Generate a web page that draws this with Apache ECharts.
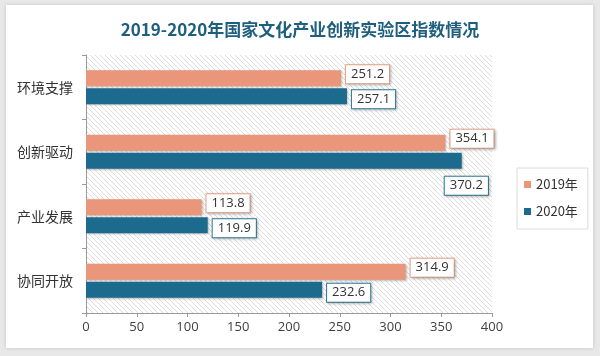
<!DOCTYPE html>
<html>
<head>
<meta charset="utf-8">
<script src="https://cdn.jsdelivr.net/npm/echarts@6/dist/echarts.min.js"></script>
<style>
html,body{margin:0;padding:0;background:#e8e8e8;}
#chart{width:600px;height:356px;}
</style>
</head>
<body>
<div id="chart"></div>
<script>
const titleText = '2019-2020年国家文化产业创新实验区指数情况';
const categories = ['环境支撑', '创新驱动', '产业发展', '协同开放'];
const seriesNames = ['2019年', '2020年'];
const values2019 = [251.2, 354.1, 113.8, 314.9];
const values2020 = [257.1, 370.2, 119.9, 232.6];
const xTicks = [0, 50, 100, 150, 200, 250, 300, 350, 400];

const colors = ['#E9967A', '#1C6A8E'];
const labelBorders = ['#E7A68C', '#2D7C9C'];

// hatch pattern
const pc = document.createElement('canvas');
pc.width = 5; pc.height = 5;
const pctx = pc.getContext('2d');
pctx.fillStyle = '#ffffff';
pctx.fillRect(0, 0, 5, 5);
pctx.strokeStyle = '#dedede';
pctx.lineWidth = 1;
pctx.beginPath();
pctx.moveTo(0, 0); pctx.lineTo(5, 5);
pctx.moveTo(-2.5, 2.5); pctx.lineTo(2.5, 7.5);
pctx.moveTo(2.5, -2.5); pctx.lineTo(7.5, 2.5);
pctx.stroke();

const chart = echarts.init(document.getElementById('chart'), null, {renderer: 'canvas'});

function makeSeries(idx, vals) {
  return {
    name: seriesNames[idx],
    type: 'bar',
    barWidth: 16,
    barGap: '12%',
    data: vals.map(function (v, i) {
      const d = {value: v};
      if (idx === 1 && v === Math.max.apply(null, vals)) {
        d.label = {offset: [-22, 25]};
      }
      return d;
    }),
    itemStyle: {
      color: colors[idx],
      shadowColor: 'rgba(0,0,0,0.25)',
      shadowBlur: 2,
      shadowOffsetX: 1,
      shadowOffsetY: 1
    },
    label: {
      show: true,
      position: 'right',
      distance: 5,
      offset: idx === 0 ? [0, -4] : [0, 3],
      color: '#333',
      fontSize: 13,
      fontFamily: 'Open Sans, sans-serif',
      backgroundColor: '#fff',
      borderColor: labelBorders[idx],
      borderWidth: 1,
      padding: [3, 5, 2, 5],
      shadowColor: 'rgba(0,0,0,0.25)',
      shadowBlur: 3,
      shadowOffsetX: 1,
      shadowOffsetY: 1,
      formatter: function (p) { return p.value.toFixed(1); }
    }
  };
}

const option = {
  backgroundColor: '#e8e8e8',
  animation: false,
  graphic: [{
    type: 'rect',
    shape: {x: 6, y: 5, width: 587, height: 343},
    style: {fill: '#fff', shadowColor: 'rgba(0,0,0,0.15)', shadowBlur: 4},
    z: -10
  }],
  title: {
    text: titleText,
    left: 'center',
    top: 16,
    textStyle: {
      fontSize: 17,
      fontWeight: 'bold',
      color: '#1E5F7F',
      fontFamily: 'Noto Sans CJK SC, sans-serif'
    }
  },
  legend: {
    data: seriesNames,
    orient: 'vertical',
    left: 517,
    top: 168,
    icon: 'rect',
    itemWidth: 7,
    itemHeight: 7,
    itemGap: 14,
    padding: [10, 10, 11, 7],
    borderColor: '#dcdcdc',
    borderWidth: 1,
    backgroundColor: '#fff',
    textStyle: {fontSize: 13, color: '#333', fontFamily: 'Noto Sans CJK SC, sans-serif'}
  },
  grid: {
    left: 86,
    right: 108,
    top: 55,
    bottom: 43,
    show: true,
    borderWidth: 0,
    backgroundColor: {image: pc, repeat: 'repeat'}
  },
  xAxis: {
    type: 'value',
    min: xTicks[0],
    max: xTicks[xTicks.length - 1],
    interval: xTicks[1] - xTicks[0],
    axisLine: {show: true, lineStyle: {color: '#9a9a9a'}},
    axisTick: {show: true, length: 4, lineStyle: {color: '#9a9a9a'}},
    splitLine: {show: false},
    axisLabel: {color: '#404040', fontSize: 13, margin: 8, fontFamily: 'Open Sans, sans-serif'}
  },
  yAxis: {
    type: 'category',
    inverse: true,
    data: categories,
    axisLine: {show: true, lineStyle: {color: '#9a9a9a'}},
    axisTick: {show: true, length: 4, lineStyle: {color: '#9a9a9a'}},
    axisLabel: {color: '#333', fontSize: 14, margin: 13, fontFamily: 'Noto Sans CJK SC, sans-serif'}
  },
  series: [makeSeries(0, values2019), makeSeries(1, values2020)]
};
chart.setOption(option);
</script>
</body>
</html>
